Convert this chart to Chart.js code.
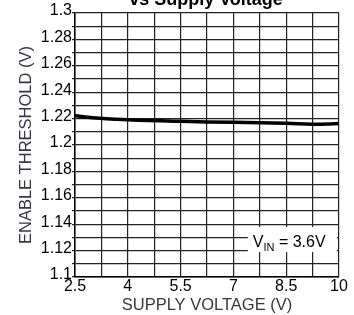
<!DOCTYPE html>
<html>
<head>
<meta charset="utf-8">
<script src="https://cdn.jsdelivr.net/npm/chart.js@4.4.1/dist/chart.umd.min.js"></script>
<style>
  html, body { margin: 0; padding: 0; background: #fff; }
  #wrap { width: 354px; height: 315px; position: relative; }
</style>
</head>
<body>
<div id="wrap"><canvas id="chart"></canvas></div>
<script>
const voltage = [2.5, 3, 4, 5.5, 7, 8.5, 9.25, 10];
const threshold = [1.2222, 1.2207, 1.2191, 1.2179, 1.2172, 1.2165, 1.2158, 1.2162];

const xMin = 2.5, xMax = 10, xStep = 0.75;
const yMin = 1.1, yMax = 1.3, yStep = 0.01;

const titleText = 'vs Supply Voltage';
const xTitle = 'SUPPLY VOLTAGE (V)';
const yTitle = 'ENABLE THRESHOLD (V)';
const noteMain = 'V';
const noteSub = 'IN';
const noteRest = ' = 3.6V';

const FONT = '"Liberation Sans", Arial, sans-serif';
const labelColor = '#3d3346';

// title is cut off at the top edge, drawn by hand
const topTitle = {
  id: 'topTitle',
  afterDraw(chart) {
    const ctx = chart.ctx;
    const a = chart.chartArea;
    ctx.save();
    ctx.font = 'bold 18px ' + FONT;
    ctx.fillStyle = '#000';
    ctx.textAlign = 'center';
    ctx.textBaseline = 'alphabetic';
    ctx.fillText(titleText, (a.left + a.right) / 2 - 1, 5);
    ctx.restore();
  }
};

// V_IN = 3.6V note with white box
const note = {
  id: 'note',
  afterDatasetsDraw(chart) {
    const ctx = chart.ctx;
    const x = chart.scales.x, y = chart.scales.y;
    const l = x.getPixelForValue(7.41), r = x.getPixelForValue(9.94);
    const t = y.getPixelForValue(1.1379), b = y.getPixelForValue(1.1189);
    ctx.save();
    ctx.fillStyle = '#fff';
    ctx.fillRect(l, t, r - l, b - t);
    ctx.fillStyle = '#000';
    ctx.textBaseline = 'alphabetic';
    ctx.textAlign = 'left';
    let tx = x.getPixelForValue(7.55);
    const base = y.getPixelForValue(1.123);
    ctx.font = '16px ' + FONT;
    ctx.fillText(noteMain, tx, base);
    tx += ctx.measureText(noteMain).width;
    ctx.font = '11px ' + FONT;
    ctx.fillText(noteSub, tx, base + 4);
    tx += ctx.measureText(noteSub).width;
    ctx.font = '16px ' + FONT;
    ctx.fillText(noteRest, tx, base);
    ctx.restore();
  }
};

new Chart(document.getElementById('chart'), {
  type: 'line',
  data: {
    datasets: [{
      data: voltage.map((v, i) => ({ x: v, y: threshold[i] })),
      borderColor: '#000',
      borderWidth: 3.5,
      tension: 0.4,
      pointRadius: 0,
      fill: false
    }]
  },
  options: {
    responsive: true,
    maintainAspectRatio: false,
    animation: false,
    layout: { padding: { top: 13, right: 15, left: 0, bottom: 0 } },
    plugins: { legend: { display: false }, title: { display: false }, tooltip: { enabled: false } },
    scales: {
      x: {
        type: 'linear',
        min: xMin, max: xMax,
        afterFit: s => { s.height = 38; },
        border: { color: '#000', width: 1.5 },
        grid: { color: '#222', lineWidth: 1.2, drawTicks: false },
        ticks: {
          stepSize: xStep,
          autoSkip: false,
          maxRotation: 0,
          padding: 0,
          color: '#000',
          font: { family: FONT, size: 16 },
          callback: (v, i) => i % 2 === 0 ? String(parseFloat(v.toFixed(2))) : ''
        },
        title: {
          display: true, text: xTitle, color: labelColor,
          font: { family: FONT, size: 16.5 },
          padding: { top: 3, bottom: 0 }
        }
      },
      y: {
        type: 'linear',
        min: yMin, max: yMax,
        afterFit: s => { s.width = 75; },
        border: { color: '#000', width: 1.5 },
        grid: { color: '#222', lineWidth: 1.2, tickLength: 3 },
        ticks: {
          stepSize: yStep,
          autoSkip: false,
          padding: 0,
          labelOffset: -2,
          color: '#000',
          font: { family: FONT, size: 16 },
          callback: (v, i) => i % 2 === 0 ? String(parseFloat(v.toFixed(2))) : ''
        },
        title: {
          display: true, text: yTitle, color: labelColor,
          font: { family: FONT, size: 16.5 },
          padding: { top: 17, bottom: 0 }
        }
      }
    }
  },
  plugins: [topTitle, note]
});
</script>
</body>
</html>
